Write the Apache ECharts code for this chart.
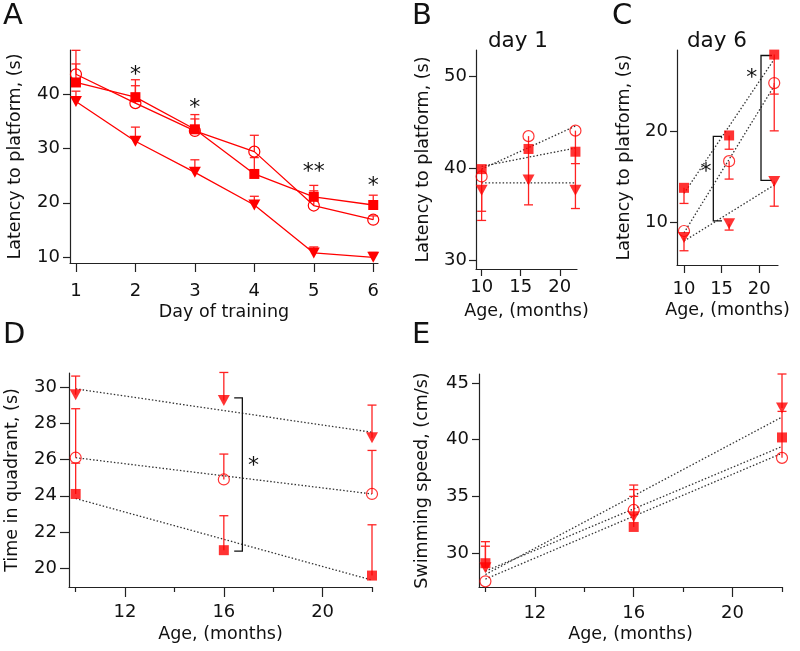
<!DOCTYPE html>
<html><head><meta charset="utf-8">
<script src="https://cdn.jsdelivr.net/npm/echarts@6/dist/echarts.min.js"></script>
<style>html,body{margin:0;padding:0;background:#fff}#c{width:800px;height:651px}</style>
</head><body><div id="c"></div>
<script>
// ---------- DATA ----------
const daysA = [1, 2, 3, 4, 5, 6];
const aSquare   = [42.1, 39.4, 33.5, 25.3, 21.1, 19.6];
const aCircle   = [43.6, 38.3, 33.2, 29.4, 19.5, 16.9];
const aTriangle = [38.6, 31.3, 25.6, 19.6, 10.8, 10.0];
const aSquareErr   = [45.5, 42.6, 36.2, 28.3, 23.2, 21.4];
const aCircleErr   = [48.0, 41.5, 35.4, 32.4, 22.2, 17.6];
const aTriangleErr = [40.5, 33.9, 27.9, 21.2, 11.9, 10.9];
const aStarX = [2, 3, 5, 6];
const aStarY = [44.4, 38.35, 26.45, 23.9];
const aStarText = ['*', '*', '**', '*'];

const ages = [10, 16, 22];
const fitAges = [10, 22];

const bSquare   = [39.9, 42.1, 41.8];
const bCircle   = [39.1, 43.5, 44.1];
const bTriangle = [37.6, 38.7, 37.6];
const bSquareErr   = [34.3, null, 40.5];
const bCircleErr   = [null, 36.0, 35.6];
const bTriangleErr = [35.3, null, null];
const bSquareFit   = [40.2, 42.2];
const bCircleFit   = [39.9, 44.6];
const bTriangleFit = [38.4, 38.4];

const cSquare   = [13.8, 19.5, 28.3];
const cCircle   = [9.1, 16.7, 25.2];
const cTriangle = [8.4, 9.9, 14.5];
const cSquareErr   = [12.1, 18.0, 24.0];
const cCircleErr   = [null, 14.75, 20.0];
const cTriangleErr = [6.95, 9.2, 11.8];
const cSquareFit   = [13.2, 27.8];
const cCircleFit   = [8.9, 24.9];
const cTriangleFit = [8.0, 14.1];
const cBrackets = [[13.9, 19.4, 10.2, 15.05], [20.24, 28.2, 14.6, 21.7]];
const cStarX = [12.93, 19.0];
const cStarY = [16.0, 26.3];

const dTriangle = [29.57, 29.26, 27.2];
const dCircle   = [26.1, 24.9, 24.1];
const dSquare   = [24.1, 21.0, 19.6];
const dTriangleErr = [30.6, 30.8, 29.0];
const dCircleErr   = [28.8, 26.3, 26.5];
const dSquareErr   = [25.8, 22.9, 22.4];
const dTriangleFit = [29.9, 27.5];
const dCircleFit   = [26.1, 24.1];
const dSquareFit   = [23.85, 19.35];
const dBrackets = [[16.75, 29.4, 20.95, 16.42]];
const dStarX = [17.2];
const dStarY = [25.9];

const eTriangle = [28.7, 33.2, 42.8];
const eSquare   = [29.1, 32.3, 40.2];
const eCircle   = [27.5, 33.8, 38.4];
const eTriangleErr = [30.6, 35.6, 45.8];
const eSquareErr   = [31.0, 35.0, null];
const eCircleErr   = [null, 36.0, 42.5];
const eTriangleFit = [28.1, 42.0];
const eSquareFit   = [28.4, 39.4];
const eCircleFit   = [27.7, 38.8];

const ticksA_x = [1, 2, 3, 4, 5, 6];
const ticksA_y = [10, 20, 30, 40];
const ticksB_x = [10, 15, 20];
const ticksB_y = [30, 40, 50];
const ticksC_y = [10, 20];
const ticksDE_x = [12, 16, 20];
const ticksDE_xMinor = [10, 14, 18, 22];
const ticksD_y = [20, 22, 24, 26, 28, 30];
const ticksE_y = [30, 35, 40, 45];

// ---------- STYLE HELPERS ----------
const FONT = 'DejaVu Sans';
const RED = '#ff0000';
const AX = '#222';

function zip(xs, ys) { return xs.map((x, i) => [x, ys[i]]); }

function valAxis(gi, min, max, labels, o) {
  const ax = {
    type: 'value', gridIndex: gi, min: min, max: max,
    axisLine: { show: o.line !== false, onZero: false, lineStyle: { color: AX, width: 1.2 } },
    axisTick: { show: true, length: o.tickLen || 8, customValues: o.ticks || labels, lineStyle: { color: AX, width: 1.2 } },
    axisLabel: { show: o.noLabel ? false : true, customValues: labels, margin: o.margin == null ? 10 : o.margin, fontSize: 18, fontFamily: FONT, color: '#111' },
    splitLine: { show: false },
    name: o.name || '', nameLocation: 'middle', nameGap: o.nameGap || 30,
    nameTextStyle: { fontSize: 17.5, fontFamily: FONT, color: '#111' }
  };
  if (o.position) { ax.position = o.position; ax.offset = 0; }
  return ax;
}

const markers = {
  square: { symbol: 'rect', symbolSize: 10, itemStyle: { color: RED } },
  circle: { symbol: 'circle', symbolSize: 11, itemStyle: { color: 'rgba(255,255,255,0)', borderColor: RED, borderWidth: 1.2 } },
  triangle: { symbol: 'triangle', symbolSize: [12, 11], symbolRotate: 180, itemStyle: { color: RED } }
};

function scatter(xi, yi, xs, ys, kind) {
  return Object.assign({ type: 'scatter', xAxisIndex: xi, yAxisIndex: yi, data: zip(xs, ys), z: 4, silent: true }, markers[kind]);
}
function lineMark(xi, yi, xs, ys, kind) {
  return Object.assign({ type: 'line', xAxisIndex: xi, yAxisIndex: yi, data: zip(xs, ys), z: 4, silent: true,
    showSymbol: true, lineStyle: { color: RED, width: 1.3 } }, markers[kind]);
}
function fitLine(xi, yi, ys) {
  return { type: 'line', xAxisIndex: xi, yAxisIndex: yi, data: zip(fitAges, ys), symbol: 'none', z: 2, silent: true,
    lineStyle: { color: '#333', width: 1.3, type: [1.5, 2] } };
}
function errBars(xi, yi, xs, ys, ends) {
  const data = [];
  xs.forEach((x, i) => { if (ends[i] != null) data.push([x, ys[i], ends[i]]); });
  return { type: 'custom', xAxisIndex: xi, yAxisIndex: yi, data: data, z: 3, silent: true,
    encode: { x: 0, y: [1, 2] },
    renderItem: function (params, api) {
      const p0 = api.coord([api.value(0), api.value(1)]);
      const p1 = api.coord([api.value(0), api.value(2)]);
      const w = 4.5;
      const st = { stroke: '#f22', lineWidth: 1.3 };
      return { type: 'group', children: [
        { type: 'line', shape: { x1: p0[0], y1: p0[1], x2: p1[0], y2: p1[1] }, style: st },
        { type: 'line', shape: { x1: p1[0] - w, y1: p1[1], x2: p1[0] + w, y2: p1[1] }, style: st }
      ] };
    } };
}
function brackets(xi, yi, list) {
  return { type: 'custom', xAxisIndex: xi, yAxisIndex: yi, data: list, z: 3, silent: true,
    encode: { x: [0, 3], y: [1, 2] },
    renderItem: function (params, api) {
      const x = api.value(0), y1 = api.value(1), y2 = api.value(2), tx = api.value(3);
      const pts = [api.coord([tx, y1]), api.coord([x, y1]), api.coord([x, y2]), api.coord([tx, y2])];
      return { type: 'polyline', shape: { points: pts }, style: { stroke: '#111', lineWidth: 1.3, fill: null } };
    } };
}
function stars(xi, yi, xs, ys, texts) {
  return { type: 'custom', xAxisIndex: xi, yAxisIndex: yi, data: zip(xs, ys), z: 5, silent: true,
    renderItem: function (params, api) {
      const p = api.coord([api.value(0), api.value(1)]);
      const t = texts ? texts[params.dataIndex] : '*';
      return { type: 'text', x: p[0], y: p[1] + 5,
        style: { text: t, fontSize: 22, fontFamily: FONT, fill: '#111', textAlign: 'center', textVerticalAlign: 'middle' } };
    } };
}

// ---------- OPTION ----------
const option = {
  animation: false,
  backgroundColor: '#fff',
  grid: [
    { left: 70, top: 50, width: 308, height: 213 },
    { left: 476, top: 50, width: 101, height: 219 },
    { left: 677, top: 50, width: 101, height: 215 },
    { left: 69, top: 373, width: 303, height: 214 },
    { left: 479, top: 374, width: 303, height: 213 }
  ],
  xAxis: [
    valAxis(0, 0.9, 6.08, ticksA_x, { tickLen: 9, margin: 19, name: 'Day of training', nameGap: 40, position: 'bottom' }),
    valAxis(1, 9.28, 22.2, ticksB_x, { tickLen: 7, margin: 9, name: 'Age, (months)', nameGap: 33, position: 'bottom' }),
    valAxis(2, 9.07, 22.5, ticksB_x, { tickLen: 8, margin: 15, name: 'Age, (months)', nameGap: 36, position: 'bottom' }),
    valAxis(3, 9.73, 22.0, ticksDE_x, { tickLen: 10, margin: 16, name: 'Age, (months)', nameGap: 38, position: 'bottom' }),
    valAxis(3, 9.73, 22.0, [], { tickLen: 5, ticks: ticksDE_xMinor, noLabel: true, line: false, position: 'bottom' }),
    valAxis(4, 9.74, 22.0, ticksDE_x, { tickLen: 10, margin: 17, name: 'Age, (months)', nameGap: 38, position: 'bottom' }),
    valAxis(4, 9.74, 22.0, [], { tickLen: 5, ticks: ticksDE_xMinor, noLabel: true, line: false, position: 'bottom' })
  ],
  yAxis: [
    valAxis(0, 8.95, 48.06, ticksA_y, { tickLen: 7, margin: 10, name: 'Latency to platform, (s)', nameGap: 46, position: 'left' }),
    valAxis(1, 29.0, 52.9, ticksB_y, { tickLen: 7, margin: 9, name: 'Latency to platform, (s)', nameGap: 44, position: 'left' }),
    valAxis(2, 5.4, 28.8, ticksC_y, { tickLen: 7, margin: 9, name: 'Latency to platform, (s)', nameGap: 44, position: 'left' }),
    valAxis(3, 18.97, 30.77, ticksD_y, { tickLen: 9, margin: 12, name: 'Time in quadrant, (s)', nameGap: 48, position: 'left' }),
    valAxis(4, 27.0, 45.8, ticksE_y, { tickLen: 7, margin: 10, name: 'Swimming speed, (cm/s)', nameGap: 48, position: 'left' })
  ],
  graphic: [
    { type: 'text', x: 3, y: 2, style: { text: 'A', fontSize: 29, fontFamily: FONT, fill: '#111' } },
    { type: 'text', x: 412, y: 2, style: { text: 'B', fontSize: 29, fontFamily: FONT, fill: '#111' } },
    { type: 'text', x: 612, y: 2, style: { text: 'C', fontSize: 29, fontFamily: FONT, fill: '#111' } },
    { type: 'text', x: 3, y: 321, style: { text: 'D', fontSize: 29, fontFamily: FONT, fill: '#111' } },
    { type: 'text', x: 412, y: 321, style: { text: 'E', fontSize: 29, fontFamily: FONT, fill: '#111' } },
    { type: 'text', x: 518, y: 30, style: { text: 'day 1', fontSize: 21.5, fontFamily: FONT, fill: '#111', textAlign: 'center' } },
    { type: 'text', x: 717, y: 30, style: { text: 'day 6', fontSize: 21.5, fontFamily: FONT, fill: '#111', textAlign: 'center' } }
  ],
  series: [
    // A
    errBars(0, 0, daysA, aCircle, aCircleErr),
    errBars(0, 0, daysA, aSquare, aSquareErr),
    errBars(0, 0, daysA, aTriangle, aTriangleErr),
    lineMark(0, 0, daysA, aCircle, 'circle'),
    lineMark(0, 0, daysA, aSquare, 'square'),
    lineMark(0, 0, daysA, aTriangle, 'triangle'),
    stars(0, 0, aStarX, aStarY, aStarText),
    // B
    fitLine(1, 1, bSquareFit), fitLine(1, 1, bCircleFit), fitLine(1, 1, bTriangleFit),
    errBars(1, 1, ages, bSquare, bSquareErr),
    errBars(1, 1, ages, bCircle, bCircleErr),
    errBars(1, 1, ages, bTriangle, bTriangleErr),
    scatter(1, 1, ages, bCircle, 'circle'),
    scatter(1, 1, ages, bSquare, 'square'),
    scatter(1, 1, ages, bTriangle, 'triangle'),
    // C
    fitLine(2, 2, cSquareFit), fitLine(2, 2, cCircleFit), fitLine(2, 2, cTriangleFit),
    errBars(2, 2, ages, cSquare, cSquareErr),
    errBars(2, 2, ages, cCircle, cCircleErr),
    errBars(2, 2, ages, cTriangle, cTriangleErr),
    scatter(2, 2, ages, cCircle, 'circle'),
    scatter(2, 2, ages, cSquare, 'square'),
    scatter(2, 2, ages, cTriangle, 'triangle'),
    brackets(2, 2, cBrackets),
    stars(2, 2, cStarX, cStarY),
    // D
    fitLine(3, 3, dTriangleFit), fitLine(3, 3, dCircleFit), fitLine(3, 3, dSquareFit),
    errBars(3, 3, ages, dTriangle, dTriangleErr),
    errBars(3, 3, ages, dCircle, dCircleErr),
    errBars(3, 3, ages, dSquare, dSquareErr),
    scatter(3, 3, ages, dCircle, 'circle'),
    scatter(3, 3, ages, dSquare, 'square'),
    scatter(3, 3, ages, dTriangle, 'triangle'),
    brackets(3, 3, dBrackets),
    stars(3, 3, dStarX, dStarY),
    // E
    fitLine(5, 4, eTriangleFit), fitLine(5, 4, eSquareFit), fitLine(5, 4, eCircleFit),
    errBars(5, 4, ages, eTriangle, eTriangleErr),
    errBars(5, 4, ages, eSquare, eSquareErr),
    errBars(5, 4, ages, eCircle, eCircleErr),
    scatter(5, 4, ages, eCircle, 'circle'),
    scatter(5, 4, ages, eSquare, 'square'),
    scatter(5, 4, ages, eTriangle, 'triangle')
  ]
};

const chart = echarts.init(document.getElementById('c'), null, { renderer: 'canvas' });
chart.setOption(option);
</script></body></html>
